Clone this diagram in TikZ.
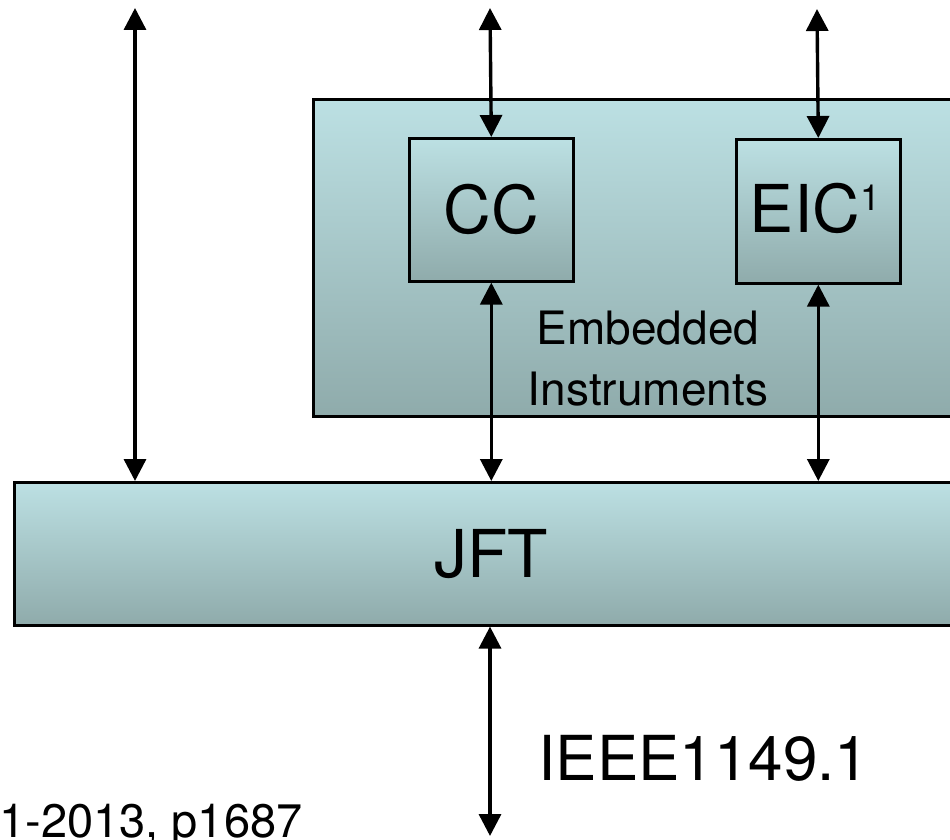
\documentclass[tikz,border=0pt]{standalone}
\usepackage{fontspec}
\setmainfont{TeX Gyre Heros}
\usetikzlibrary{arrows.meta}
\definecolor{gtop}{HTML}{BCE0E3}
\definecolor{gbot}{HTML}{8FABAB}
\tikzset{
  block/.style={draw=black, line width=2.6pt, top color=gtop, bottom color=gbot,
    inner sep=0pt, anchor=north west},
  bigtext/.style={font=\fontsize{66}{70}\selectfont},
  midtext/.style={font=\fontsize{46}{61}\selectfont, align=center},
  busline/.style={line width=3.4pt,
    arrows={Triangle[length=22pt,width=22pt]-Triangle[length=22pt,width=22pt]}}
}
\begin{document}
\begin{tikzpicture}[x=1pt, y=-1pt]
  \useasboundingbox (0,0) rectangle (950,840);
  \clip (0,0) rectangle (950,840);

  % embedded instruments region
  \node[block, minimum width=660pt, minimum height=317pt] (ei) at (312,98) {};

  % controller and interface blocks
  \node[block, minimum width=164pt, minimum height=143pt, bigtext] (cc) at (408,137) {CC};
  \node[block, minimum width=164pt, minimum height=144pt] (eic) at (735,138) {};
  \node[bigtext, anchor=base] (eiclabel) at (815,232)
    {EIC\raisebox{22pt}{\fontsize{36}{36}\selectfont 1}};

  % region caption, set below the blocks
  \node[midtext, anchor=base] (eitext) at (648,405) {Embedded\\Instruments};

  % JTAG feature block
  \node[block, minimum width=954pt, minimum height=143pt, bigtext] (jft) at (13,481) {JFT};

  % free ends of the interface lines
  \coordinate (t1) at (135,8);
  \coordinate (t2) at (490,8);
  \coordinate (t3) at (817,9);
  \coordinate (b1) at (490,836);

  \draw[busline] (t1) -- (t1 |- jft.north);
  \draw[busline] (t2) -- (cc.north);
  \draw[busline] (cc.south) -- (cc.south |- jft.north);
  \draw[busline] (t3) -- (eic.north);
  \draw[busline] (eic.south) -- (eic.south |- jft.north);
  \draw[busline] (b1 |- jft.south) -- (b1);

  % standard labels
  \node[font=\fontsize{62}{66}\selectfont, anchor=base west] (ieee) at (535,780) {IEEE1149.1};
  \node[font=\fontsize{47}{50}\selectfont, anchor=base east] (ref) at (306,837) {1-2013, p1687};
\end{tikzpicture}
\end{document}
